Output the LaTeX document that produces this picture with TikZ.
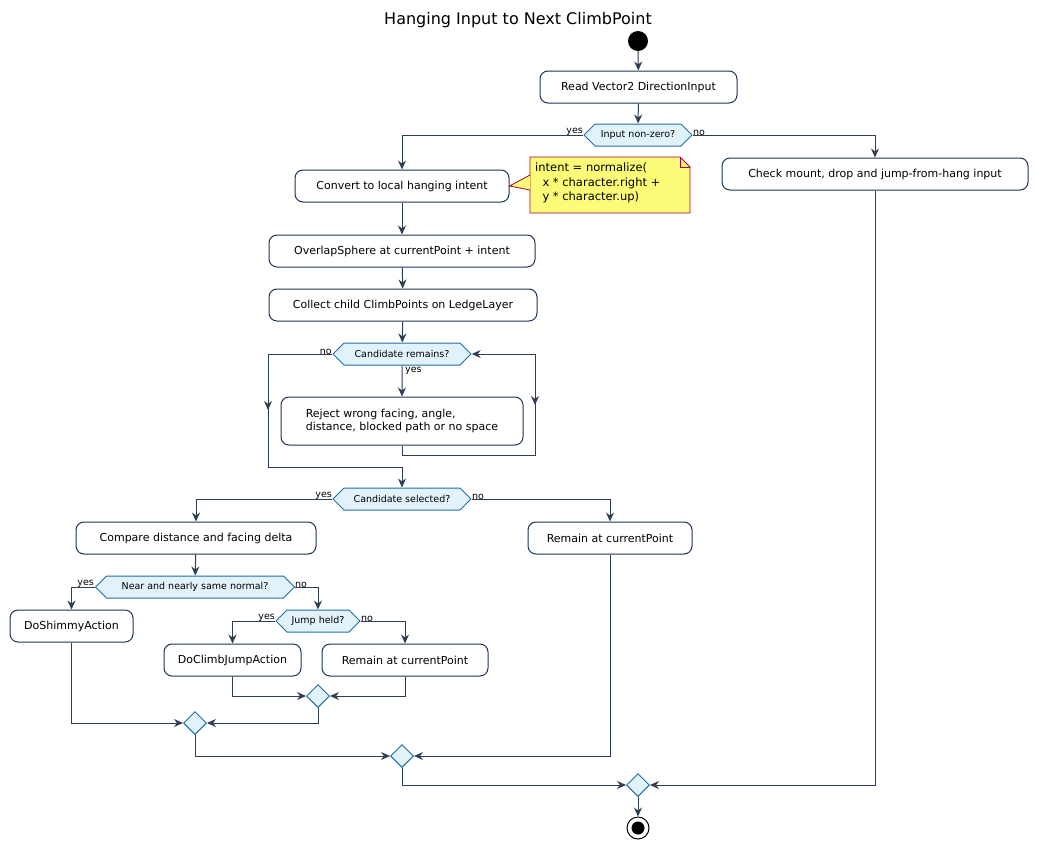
\documentclass[tikz,border=0pt]{standalone}
\usepackage{fontspec}
\setmainfont{DejaVu Sans}
\usetikzlibrary{shapes.symbols,shapes.geometric,arrows.meta}
\definecolor{ln}{HTML}{2F3E52}
\definecolor{bx}{HTML}{1E3356}
\definecolor{dfill}{HTML}{E2F2FB}
\definecolor{dline}{HTML}{1F6FA6}
\definecolor{notef}{HTML}{FBFB77}
\definecolor{noteb}{HTML}{A80036}
\begin{document}
\begin{tikzpicture}[x=1pt,y=-1pt,
  act/.style={draw=bx,line width=1pt,fill=white,rounded corners=8pt,minimum height=32pt,inner sep=0pt,font=\fontsize{11}{13.5}\selectfont,align=left},
  dec/.style={draw=dline,line width=1pt,fill=dfill,signal,signal to=east and west,signal pointer angle=90,minimum height=22pt,inner ysep=0pt,inner xsep=2pt,font=\fontsize{9.5}{11}\selectfont},
  mrg/.style={draw=dline,line width=1pt,fill=dfill,diamond,minimum size=23pt,inner sep=0pt},
  lbl/.style={font=\fontsize{9.5}{11}\selectfont,inner sep=1pt},
  ar/.style={draw=ln,line width=1pt,-{Stealth[length=9pt,width=8pt]}},
  pl/.style={draw=ln,line width=1pt}]
\useasboundingbox (0,0) rectangle (1037,849);
\node[font=\fontsize{16}{18}\selectfont] (title) at (518,20) {Hanging Input to Next ClimbPoint};
\node[circle,fill=black,minimum size=20pt,inner sep=0pt] (start) at (638,41) {};
\node[act,minimum width=197pt] (read) at (638.5,87) {Read Vector2 DirectionInput};
\node[dec,minimum width=108pt] (d1) at (638,135) {Input non-zero?};
\node[lbl,anchor=south east] at (584,137) {yes};
\node[lbl,anchor=south west] at (692,137) {no};
\node[act,minimum width=214pt] (conv) at (402,186) {Convert to local hanging intent};
\node[act,minimum width=306pt] (check) at (875,174) {Check mount, drop and jump-from-hang input};
\node[act,minimum width=266pt] (ovl) at (402,251) {OverlapSphere at currentPoint + intent};
\node[act,minimum width=268pt] (coll) at (403,305) {Collect child ClimbPoints on LedgeLayer};
\node[dec,minimum width=138pt] (d2) at (402,354) {Candidate remains?};
\node[lbl,anchor=south east] at (333,356) {no};
\node[lbl,anchor=north west] at (404,366) {yes};
\node[act,minimum width=242pt,minimum height=48pt,inner xsep=10pt] (rej) at (402,421) {Reject wrong facing, angle,\\distance, blocked path or no space};
\node[dec,minimum width=138pt] (d3) at (402,499) {Candidate selected?};
\node[lbl,anchor=south east] at (333,501) {yes};
\node[lbl,anchor=south west] at (471,501) {no};
\node[act,minimum width=240pt] (cmp) at (196,538) {Compare distance and facing delta};
\node[act,minimum width=164pt] (rem1) at (610,538) {Remain at currentPoint};
\node[dec,minimum width=199pt] (d4) at (195,587) {Near and nearly same normal?};
\node[lbl,anchor=south east] at (95,589) {yes};
\node[lbl,anchor=south west] at (294,589) {no};
\node[act,minimum width=123pt] (shim) at (71.5,626) {DoShimmyAction};
\node[dec,minimum width=84pt] (d5) at (318,621) {Jump held?};
\node[lbl,anchor=south east] at (276,623) {yes};
\node[lbl,anchor=south west] at (360,623) {no};
\node[act,minimum width=137pt] (cj) at (232.5,660) {DoClimbJumpAction};
\node[act,minimum width=166pt] (rem2) at (405,660) {Remain at currentPoint};
\node[mrg] (m1) at (318,696) {};
\node[mrg] (m2) at (195,723) {};
\node[mrg] (m3) at (402,756) {};
\node[mrg] (m4) at (638,785) {};
\node[circle,draw=black,line width=1pt,fill=white,minimum size=22pt,inner sep=0pt] (stop) at (638,828) {};
\node[circle,fill=black,minimum size=13pt,inner sep=0pt] at (stop) {};
% note
\coordinate (nA) at (530,157);
\coordinate (nB) at (690,213);
\path[fill=notef,draw=noteb,line width=0.8pt] (530,157) -- (680,157) -- (690,167) -- (690,213) -- (530,213) -- cycle;
\draw[noteb,line width=0.8pt] (680,157) -- (680,167) -- (690,167);
\path[fill=notef,draw=noteb,line width=0.8pt] (530,175) -- (conv.east) -- (530,190);
\fill[notef] (530.5,175.5) rectangle (532,189.5);
\node[anchor=north west,align=left,inner sep=0pt,font=\fontsize{11.5}{14.5}\selectfont] (note) at (535,163) {intent = normalize(\\\ \ x * character.right +\\\ \ y * character.up)};
% connectors
\draw[ar] (start) -- (read);
\draw[ar] (read) -- (d1);
\draw[ar] (d1.west) -| (conv.north);
\draw[ar] (d1.east) -| (check.north);
\draw[ar] (conv) -- (ovl);
\draw[ar] (ovl) -- (coll);
\draw[ar] (coll) -- (d2);
\draw[ar] (d2) -- (rej);
\coordinate (lb) at (402,455);
\draw[pl] (rej.south) -- (lb) -| (535,354);
\draw[ar] (535,380) -- (535,405);
\draw[ar] (535,354) -- (d2.east);
\coordinate (ln1) at (268,467);
\draw[pl] (d2.west) -| (ln1) -- (402,467);
\draw[ar] (268,380) -- (268,410);
\draw[ar] (402,467) -- (d3.north);
\draw[ar] (d3.west) -| (cmp.north);
\draw[ar] (d3.east) -| (rem1.north);
\draw[ar] (cmp) -- (d4);
\draw[ar] (d4.west) -| (shim.north);
\draw[ar] (d4.east) -| (d5.north);
\draw[ar] (d5.west) -| (cj.north);
\draw[ar] (d5.east) -| (rem2.north);
\draw[ar] (cj.south) |- (m1.west);
\draw[ar] (rem2.south) |- (m1.east);
\draw[ar] (shim.south) |- (m2.west);
\draw[ar] (m1.south) |- (m2.east);
\draw[ar] (m2.south) |- (m3.west);
\draw[ar] (rem1.south) |- (m3.east);
\draw[ar] (m3.south) |- (m4.west);
\draw[ar] (check.south) |- (m4.east);
\draw[ar] (m4) -- (stop);
\end{tikzpicture}
\end{document}
